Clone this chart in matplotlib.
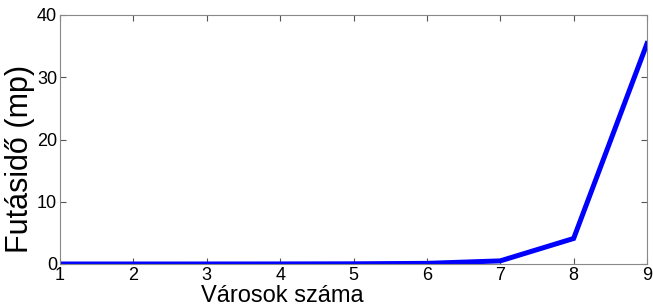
import matplotlib
matplotlib.use("Agg")
import matplotlib.pyplot as plt

# --- values ---
cities = [1, 2, 3, 4, 5, 6, 7, 8, 9]
runtime = [0.0, 0.0, 0.002, 0.01, 0.03, 0.1, 0.5, 4.1, 35.4]

plt.rcParams['font.family'] = ['Liberation Sans', 'DejaVu Sans']

fig = plt.figure(figsize=(6.53, 3.08), dpi=100)
ax = fig.add_axes([60 / 653, 1 - 264 / 308, 587 / 653, 249 / 308])

ax.plot(cities, runtime, color='#0000ff', linewidth=3.6, solid_joinstyle='miter')

ax.set_xlim(1, 9)
ax.set_ylim(0, 40)
ax.set_xticks(cities)
ax.set_yticks([0, 10, 20, 30, 40])
ax.tick_params(direction='in', top=True, right=True, labelsize=13, length=4,
               color='#555555', pad=2)
for s in ax.spines.values():
    s.set_color('#888888')

ax.set_xlabel("Városok száma", fontsize=17, va='center')
ax.xaxis.set_label_coords(0.378, -0.128)
ax.set_ylabel("Futásidő (mp)", fontsize=22, va='center')
ax.yaxis.set_label_coords(-0.068, 0.42)

fig.savefig("out.png", dpi=100)
